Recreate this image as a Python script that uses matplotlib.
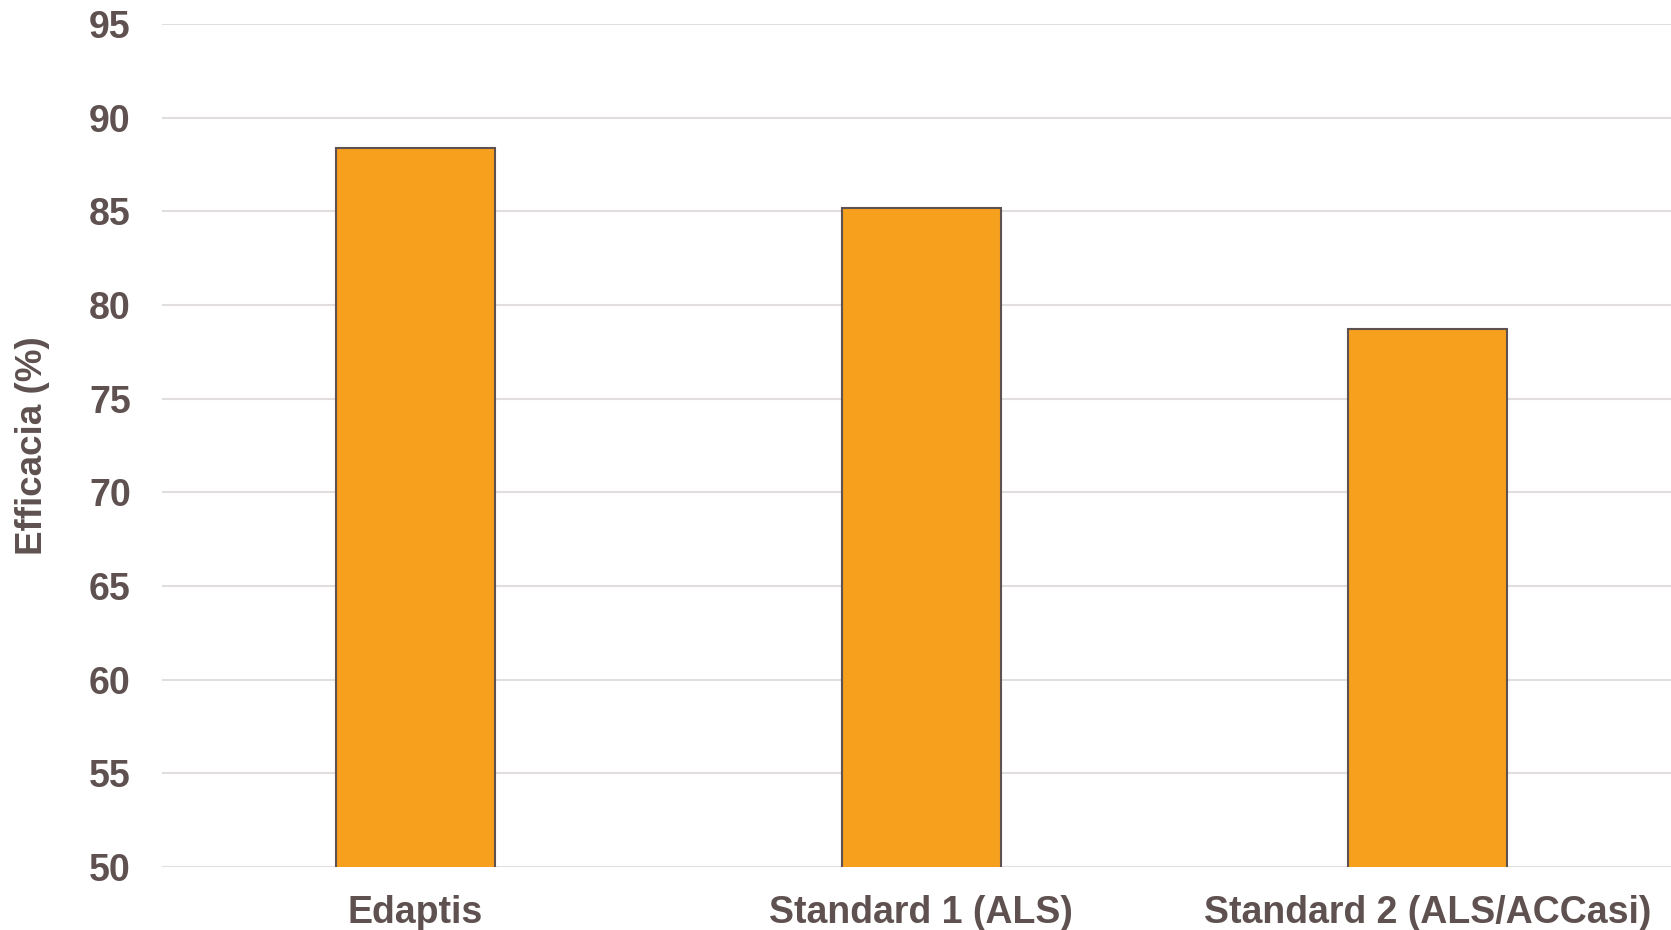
import matplotlib.pyplot as plt

# values
categories = ['Edaptis', 'Standard 1 (ALS)', 'Standard 2 (ALS/ACCasi)']
efficacia = [88.4, 85.2, 78.7]
yticks = [50, 55, 60, 65, 70, 75, 80, 85, 90, 95]

txt_color = '#5E5150'
plt.rcParams['font.family'] = ['Liberation Sans', 'DejaVu Sans']
plt.rcParams['font.weight'] = 'bold'

fig = plt.figure(figsize=(16.71, 9.3), dpi=100)
# axes runs a little past the right edge, as in the reference
ax = fig.add_axes([0.097, 0.068, 0.9088, 0.906])

ax.bar(range(len(categories)), efficacia, width=0.314,
       color='#F7A01D', edgecolor='#5E5150', linewidth=1.5, zorder=3)

ax.set_ylim(50, 95)
ax.set_xlim(-0.5, 2.5)
ax.set_yticks(yticks)
ax.set_xticks(range(len(categories)))
ax.set_xticklabels(categories)
ax.yaxis.grid(True, color='#E2DEDE', linewidth=1.5, zorder=0)
ax.set_axisbelow(True)
for s in ax.spines.values():
    s.set_visible(False)

ax.tick_params(axis='y', length=0, pad=22.5, labelsize=27, labelcolor=txt_color)
ax.tick_params(axis='x', length=0, pad=20, labelsize=27, labelcolor=txt_color)
ax.set_ylabel('Efficacia (%)', fontsize=26.5, color=txt_color, fontweight='bold', labelpad=28)

fig.savefig('out.png', dpi=100)
